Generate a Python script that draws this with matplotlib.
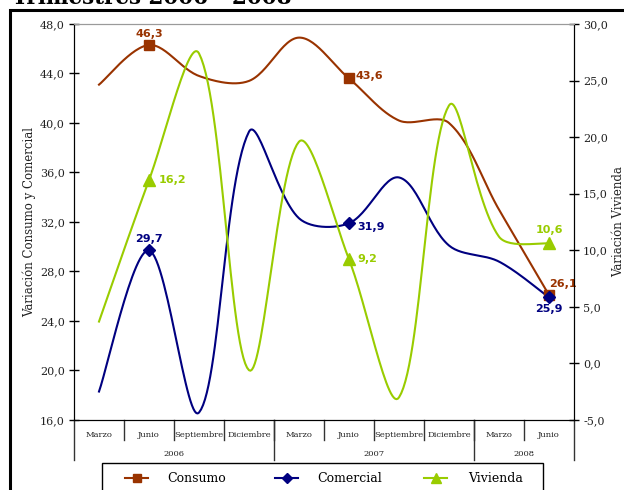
import numpy as np
import matplotlib
matplotlib.use("Agg")
import matplotlib.pyplot as plt
from matplotlib.lines import Line2D
from matplotlib.patches import Rectangle
from matplotlib.ticker import FuncFormatter

# quarterly data, Marzo 2006 .. Junio 2008
months = ["Marzo", "Junio", "Septiembre", "Diciembre",
          "Marzo", "Junio", "Septiembre", "Diciembre",
          "Marzo", "Junio"]
years = ["2006", "2007", "2008"]
year_spans = [4, 4, 2]

consumo = [43.1, 46.3, 43.8, 43.4, 46.9, 43.6, 40.2, 40.0, 33.0, 26.1]
comercial = [18.3, 29.7, 16.6, 39.3, 32.3, 31.9, 35.6, 30.1, 28.8, 25.9]
vivienda = [3.7, 16.2, 27.4, -0.6, 19.6, 9.2, -3.0, 22.8, 11.2, 10.6]
series_names = ["Consumo", "Comercial", "Vivienda"]

labeled = [1, 5, 9]  # Junio points carry a marker and a value label

C_CONS = "#993300"
C_COM = "#000080"
C_VIV = "#99CC00"

W, H = 624.0, 490.0
AX_L, AX_R, AX_T, AX_B = 74, 574, 24, 420


def smooth(y, ylo, yhi, steps=30):
    # bezier through each point; control arms scaled by on-screen segment length
    y = np.asarray(y, float)
    n = len(y)
    sx = np.arange(n) * (AX_R - AX_L) / n
    sy = (y - ylo) * (AX_B - AX_T) / (yhi - ylo)
    P = np.column_stack([sx, sy])
    t = np.linspace(0, 1, steps)[:, None]
    pts = []
    for i in range(n - 1):
        p0, p1, p2 = P[max(i - 1, 0)], P[i], P[i + 1]
        p3 = P[min(i + 2, n - 1)]
        d01 = np.hypot(*(p1 - p0))
        d12 = np.hypot(*(p2 - p1))
        d23 = np.hypot(*(p3 - p2))
        c1 = p1 + (p2 - p0) * (d12 / (d01 + d12) if d01 > 0 else 0.5) / 3.0
        c2 = p2 - (p3 - p1) * (d12 / (d12 + d23) if d23 > 0 else 0.5) / 3.0
        seg = ((1 - t) ** 3 * p1 + 3 * (1 - t) ** 2 * t * c1
               + 3 * (1 - t) * t ** 2 * c2 + t ** 3 * p2)
        pts.append(seg if i == 0 else seg[1:])
    pts = np.vstack(pts)
    xs = pts[:, 0] * n / (AX_R - AX_L)
    ys = ylo + pts[:, 1] * (yhi - ylo) / (AX_B - AX_T)
    return xs, ys


def comma(v, pos=None):
    return f"{v:.1f}".replace(".", ",")


serif = "DejaVu Serif"
fig = plt.figure(figsize=(6.24, 4.9), dpi=100)

ax = fig.add_axes([AX_L / W, 1 - AX_B / H, (AX_R - AX_L) / W, (AX_B - AX_T) / H])
ax2 = ax.twinx()
ax.set_xlim(-0.5, len(months) - 0.5)
ax.set_ylim(16, 48)
ax2.set_ylim(-5, 30)

n = len(months)
idx = np.arange(n)

for vals, col, axis in ((consumo, C_CONS, ax), (comercial, C_COM, ax), (vivienda, C_VIV, ax2)):
    lo, hi = axis.get_ylim()
    sx, sy = smooth(vals, lo, hi)
    axis.plot(sx, sy, color=col, lw=1.5, zorder=3)

ax.plot(idx[labeled], np.array(consumo)[labeled], ls="none", marker="s", ms=7, color=C_CONS, zorder=4)
ax.plot(idx[labeled], np.array(comercial)[labeled], ls="none", marker="D", ms=6, color=C_COM, zorder=5)
ax2.plot(idx[labeled], np.array(vivienda)[labeled], ls="none", marker="^", ms=8, color=C_VIV, zorder=4)

ax.set_yticks(np.arange(16, 49, 4))
ax2.set_yticks(np.arange(-5, 31, 5))
ax.yaxis.set_major_formatter(FuncFormatter(comma))
ax2.yaxis.set_major_formatter(FuncFormatter(comma))
ax.set_xticks([])

for a in (ax, ax2):
    a.tick_params(axis="y", direction="inout", length=7, width=1, labelsize=8,
                  labelcolor="#222222", pad=3)
    for lab in a.get_yticklabels():
        lab.set_family(serif)
    a.spines["top"].set_color("#9a9a9a")
    for s in ("left", "right", "bottom"):
        a.spines[s].set_color("black")

fig.text(29 / W, 1 - 222 / H, "Variación Consumo y Comercial", family=serif, fontsize=8.5,
         color="#222222", rotation=90, ha="center", va="center")
fig.text(619 / W, 1 - 222 / H, "Variación Vivienda", family=serif, fontsize=8.5,
         color="#222222", rotation=90, ha="center", va="center")

# value labels
lbl = dict(fontsize=8, fontweight="bold", family="DejaVu Sans", textcoords="offset points")
ax.annotate(comma(consumo[1]), (1, consumo[1]), xytext=(0, 4), ha="center", va="bottom", color=C_CONS, **lbl)
ax.annotate(comma(consumo[5]), (5, consumo[5]), xytext=(5, 2), ha="left", va="center", color=C_CONS, **lbl)
ax.annotate(comma(consumo[9]), (9, consumo[9]), xytext=(0, 4), ha="left", va="bottom", color=C_CONS, **lbl)
ax.annotate(comma(comercial[1]), (1, comercial[1]), xytext=(0, 5), ha="center", va="bottom", color=C_COM, **lbl)
ax.annotate(comma(comercial[5]), (5, comercial[5]), xytext=(6, -3), ha="left", va="center", color=C_COM, **lbl)
ax.annotate(comma(comercial[9]), (9, comercial[9]), xytext=(0, -5), ha="center", va="top", color=C_COM, **lbl)
ax2.annotate(comma(vivienda[1]), (1, vivienda[1]), xytext=(7, 0), ha="left", va="center", color=C_VIV, **lbl)
ax2.annotate(comma(vivienda[5]), (5, vivienda[5]), xytext=(6, 0), ha="left", va="center", color=C_VIV, **lbl)
ax2.annotate(comma(vivienda[9]), (9, vivienda[9]), xytext=(0, 6), ha="center", va="bottom", color=C_VIV, **lbl)

# two-level category axis: months, then years
tr = ax.get_xaxis_transform()
px = 1.0 / (AX_B - AX_T)  # one pixel in axes-y units
for i, m in enumerate(months):
    ax.text(i, -15 * px, m, transform=tr, ha="center", va="center",
            family=serif, fontsize=6, color="#222222")
for b in range(1, n):
    ax.plot([b - 0.5, b - 0.5], [0, -20 * px], transform=tr, color="#333333", lw=1, clip_on=False)
start = 0
bounds = [-0.5]
for yr, span in zip(years, year_spans):
    ax.text(start + span / 2 - 0.5, -34 * px, yr, transform=tr, ha="center", va="center",
            family=serif, fontsize=6, color="#222222")
    start += span
    bounds.append(start - 0.5)
for b in bounds:
    ax.plot([b, b], [0, -40 * px], transform=tr, color="#333333", lw=1, clip_on=False)

# legend box, laid out by hand
fx = lambda p: p / W
fy = lambda p: 1 - p / H
fig.patches.append(Rectangle((fx(102), fy(497)), fx(543) - fx(102), fy(463) - fy(497),
                             transform=fig.transFigure, fill=False, edgecolor="black", lw=1.0))
legend_items = [(C_CONS, "s", 6, 125, 167), (C_COM, "D", 5, 275, 317), (C_VIV, "^", 7, 424, 468)]
for name, (col, mk, ms, hx, tx) in zip(series_names, legend_items):
    fig.add_artist(Line2D([fx(hx), fx(hx + 23)], [fy(478), fy(478)], color=col, lw=1.5,
                          transform=fig.transFigure))
    fig.add_artist(Line2D([fx(hx + 11.5)], [fy(478)], color=col, marker=mk, ms=ms,
                          transform=fig.transFigure))
    fig.text(fx(tx), fy(478), name, family=serif, fontsize=9, ha="left", va="center", color="black")

# outer frame and title
fig.patches.append(Rectangle((10 / W, -0.2), 2.0, 1.2 - 10 / H, transform=fig.transFigure,
                             fill=False, edgecolor="black", lw=2.2))
fig.text(12 / W, 1 - 4 / H, "Trimestres 2006 - 2008", family=serif, fontweight="bold",
         fontsize=15.5, ha="left", va="baseline", color="black")

fig.savefig("out.png", dpi=100)
